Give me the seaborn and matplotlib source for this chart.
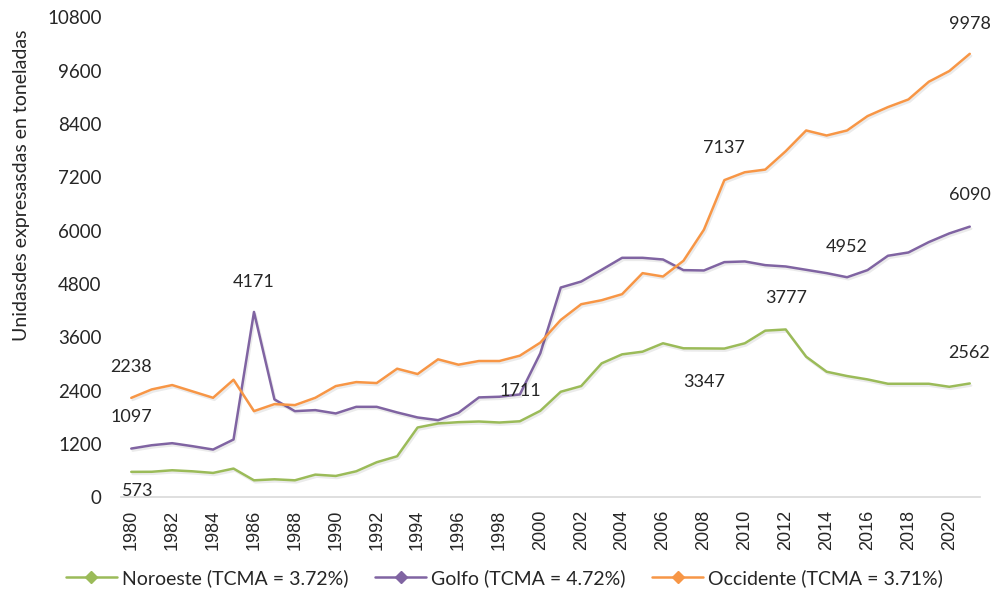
import numpy as np
import pandas as pd
import matplotlib
matplotlib.use("Agg")
import matplotlib.pyplot as plt
import matplotlib.patheffects as pe
from matplotlib.lines import Line2D
import seaborn as sns

years = list(range(1980, 2022))

noroeste = [573, 575, 609, 585, 549, 647, 383, 406, 383, 511, 481, 586, 789, 924,
            1571, 1661, 1691, 1706, 1683, 1711, 1946, 2375, 2503, 3014, 3217, 3277,
            3466, 3353, 3350, 3347, 3466, 3750, 3777, 3164, 2826, 2729, 2653, 2555,
            2555, 2555, 2487, 2562]
golfo = [1097, 1172, 1218, 1150, 1075, 1301, 4171, 2203, 1939, 1962, 1887, 2036,
         2036, 1910, 1797, 1736, 1902, 2248, 2263, 2315, 3240, 4720, 4855, 5119,
         5389, 5389, 5351, 5112, 5104, 5292, 5307, 5224, 5194, 5119, 5044, 4952,
         5112, 5435, 5509, 5743, 5938, 6090]
occidente = [2238, 2428, 2526, 2383, 2240, 2646, 1939, 2097, 2075, 2240, 2503, 2593,
             2571, 2894, 2774, 3105, 2984, 3067, 3067, 3187, 3480, 3991, 4345, 4435,
             4571, 5044, 4968, 5322, 6021, 7137, 7314, 7374, 7787, 8254, 8141, 8254,
             8577, 8780, 8952, 9351, 9591, 9978]

series_names = ["Noroeste (TCMA = 3.72%)", "Golfo (TCMA = 4.72%)", "Occidente (TCMA = 3.71%)"]
colors = ["#9BBB59", "#8064A2", "#F79646"]

# etiquetas de datos (texto, año, posición y)
label_text = ["573", "1097", "2238", "4171", "1711", "3347", "3777", "4952", "7137",
              "9978", "6090", "2562"]
label_x = [1980.3, 1980.0, 1980.0, 1986.0, 1999.0, 2008.0, 2012.0, 2015.0, 2009.0,
           2021.0, 2021.0, 2020.95]
label_y = [140, 1810, 2940, 4855, 2390, 2600, 4480, 5630, 7850, 10660, 6800, 3255]

df = pd.DataFrame({
    "year": years * 3,
    "value": noroeste + golfo + occidente,
    "serie": np.repeat(series_names, len(years)),
})

sns.set_style("white")
plt.rcParams["font.family"] = ["Lato", "DejaVu Sans"]

fig = plt.figure(figsize=(9.93, 6.01), dpi=100)
ax = fig.add_axes([0.1219, 0.1725, 0.865, 0.7987])

sns.lineplot(data=df, x="year", y="value", hue="serie", palette=colors,
             linewidth=1.8, ax=ax, legend=False)
for ln in ax.get_lines():
    ln.set_path_effects([pe.SimpleLineShadow(offset=(1, -1.5), alpha=0.08), pe.Normal()])

ax.set_xlim(1979.5, 2021.5)
ax.set_ylim(0, 10800)
ax.set_yticks(np.arange(0, 10801, 1200))
ax.set_xticks(np.arange(1980, 2021, 2))
ax.tick_params(axis="y", labelsize=13.5, length=0, pad=14)
ax.tick_params(axis="x", labelsize=13, length=0, rotation=90, pad=9)
for t in ax.get_xticklabels():
    t.set_family("Liberation Sans")

for side in ["top", "right", "left"]:
    ax.spines[side].set_visible(False)
ax.spines["bottom"].set_color("#d9d9d9")
ax.spines["bottom"].set_linewidth(1.2)

ax.set_xlabel("")
ax.set_ylabel("")
fig.text(22 / 993, 1 - 185 / 601, "Unidasdes expresasdas en toneladas", fontsize=14,
         rotation=90, ha="center", va="center")

for txt, x, y in zip(label_text, label_x, label_y):
    ax.text(x, y, txt, fontsize=13, ha="center", va="center", clip_on=False)

handles = [Line2D([0], [0], color=c, lw=1.8, marker="D", markersize=6,
                  markerfacecolor=c, markeredgecolor=c) for c in colors]
fig.legend(handles, series_names, loc="center", bbox_to_anchor=(0.508, 0.038),
           ncol=3, frameon=False, fontsize=14, handlelength=2.6,
           handletextpad=0.25, columnspacing=1.4)

fig.savefig("out.png", dpi=100)
